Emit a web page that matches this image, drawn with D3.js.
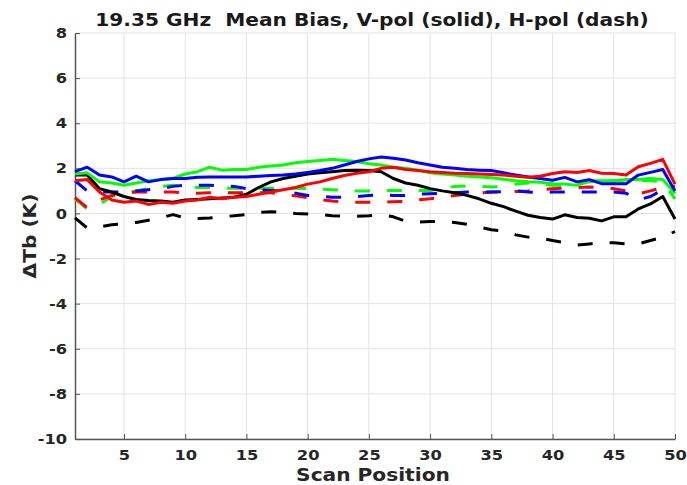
<!DOCTYPE html>
<html>
<head>
<meta charset="utf-8">
<script src="https://cdn.jsdelivr.net/npm/d3@7"></script>
<style>
  html, body { margin: 0; padding: 0; background: #fff; }
  svg { display: block; }
  text { font-family: "DejaVu Sans", sans-serif; font-weight: bold; }
</style>
</head>
<body>
<svg id="chart" width="687" height="485"></svg>
<script>
// Scan positions 1..50
const scanPositions = d3.range(1, 51);

// Mean bias (K) per scan position, V-pol (solid)
const vBlack = [1.7,1.7,1.1,0.95,0.75,0.62,0.57,0.55,0.5,0.6,0.62,0.65,0.68,0.72,0.85,1.15,1.4,1.55,1.65,1.75,1.8,1.85,1.9,1.92,1.9,1.85,1.55,1.35,1.25,1.1,1.0,0.92,0.8,0.65,0.45,0.3,0.1,-0.08,-0.18,-0.25,-0.06,-0.18,-0.21,-0.33,-0.15,-0.15,0.2,0.42,0.75,-0.25];
const vBlue  = [1.85,2.05,1.7,1.62,1.4,1.65,1.4,1.5,1.55,1.55,1.6,1.62,1.62,1.62,1.62,1.65,1.68,1.7,1.75,1.82,1.9,2.0,2.15,2.3,2.42,2.5,2.45,2.37,2.25,2.15,2.05,2.0,1.95,1.92,1.9,1.8,1.7,1.62,1.55,1.47,1.6,1.4,1.5,1.32,1.32,1.32,1.7,1.82,1.95,1.0];
const vRed   = [1.45,1.5,0.95,0.6,0.5,0.55,0.4,0.5,0.45,0.55,0.6,0.72,0.65,0.72,0.75,0.85,0.95,1.05,1.15,1.3,1.4,1.55,1.68,1.78,1.85,2.0,2.05,1.95,1.9,1.85,1.82,1.78,1.77,1.75,1.73,1.7,1.65,1.6,1.65,1.77,1.85,1.82,1.9,1.78,1.77,1.7,2.07,2.22,2.4,1.3];
const vGreen = [1.75,1.8,1.4,1.35,1.25,1.35,1.45,1.5,1.55,1.75,1.85,2.05,1.92,1.95,1.95,2.05,2.1,2.15,2.25,2.3,2.35,2.4,2.35,2.3,2.2,2.15,2.05,2.0,1.92,1.8,1.75,1.7,1.65,1.62,1.58,1.52,1.45,1.4,1.38,1.32,1.3,1.25,1.45,1.45,1.45,1.5,1.5,1.55,1.5,0.9];

// Mean bias (K) per scan position, H-pol (dash)
const hBlack = [-0.2,-0.65,-0.6,-0.5,-0.45,-0.4,-0.3,-0.2,-0.05,-0.2,-0.22,-0.2,-0.15,-0.1,-0.05,0.05,0.08,0.05,0.0,-0.02,-0.05,-0.1,-0.12,-0.12,-0.1,-0.05,-0.15,-0.35,-0.38,-0.36,-0.36,-0.4,-0.48,-0.6,-0.72,-0.78,-0.95,-1.05,-1.1,-1.2,-1.3,-1.4,-1.35,-1.3,-1.3,-1.35,-1.35,-1.2,-1.05,-0.8];
const hBlue  = [1.45,1.0,0.95,0.95,0.95,1.0,1.05,1.1,1.2,1.25,1.25,1.25,1.22,1.2,1.1,1.05,1.02,1.0,0.9,0.8,0.75,0.72,0.72,0.75,0.8,0.82,0.8,0.8,0.85,0.87,0.9,0.92,0.95,0.95,0.95,0.97,1.0,0.95,0.92,0.95,0.95,0.95,0.95,0.95,0.95,0.9,0.6,0.75,1.05,1.0];
const hRed   = [0.7,0.25,0.6,0.8,0.9,0.95,0.95,0.95,0.95,0.9,0.9,0.92,0.92,0.92,0.92,0.92,0.92,0.85,0.78,0.7,0.62,0.55,0.5,0.5,0.5,0.5,0.52,0.53,0.6,0.65,0.72,0.8,0.85,0.9,0.95,0.95,0.97,1.0,1.05,1.1,1.12,1.15,1.17,1.15,1.1,1.0,0.87,1.0,1.15,1.2];
const hGreen = [0.65,0.2,0.4,0.75,0.9,1.0,1.1,1.2,1.25,1.2,1.15,1.15,1.12,1.12,1.12,1.12,1.12,1.12,1.12,1.1,1.08,1.05,1.02,1.0,1.0,1.02,1.02,1.02,1.02,1.02,1.1,1.2,1.22,1.2,1.17,1.2,1.3,1.35,1.3,1.25,1.25,1.3,1.4,1.42,1.45,1.47,1.47,1.45,1.4,0.65];

// Axis ticks
const xTicks = [5,10,15,20,25,30,35,40,45,50];
const yTicks = [-10,-8,-6,-4,-2,0,2,4,6,8];

const titleText = "19.35 GHz  Mean Bias, V-pol (solid), H-pol (dash)";
const xLabel = "Scan Position";
const yLabel = "\u0394Tb (K)";

const svg = d3.select("#chart");
const margin = { left: 75, right: 12, top: 33, bottom: 46 };
const W = 687, H = 485;
const STRETCH = 1.12; // text is drawn slightly wide

const x = d3.scaleLinear().domain([1, 50]).range([margin.left, W - margin.right]);
const y = d3.scaleLinear().domain([-10, 8]).range([H - margin.bottom, margin.top]);

// grid
const grid = svg.append("g").attr("stroke", "#e3e3e3").attr("stroke-width", 1);
xTicks.forEach(t => grid.append("line")
  .attr("x1", x(t)).attr("x2", x(t)).attr("y1", y(-10)).attr("y2", y(8)));
yTicks.forEach(t => grid.append("line")
  .attr("x1", x(1)).attr("x2", x(50)).attr("y1", y(t)).attr("y2", y(t)));

// axes (plain hyphen minus on negative labels)
const fmt = t => String(t);
const xAxis = d3.axisBottom(x).tickValues(xTicks).tickFormat(fmt).tickSizeInner(-5).tickSizeOuter(0).tickPadding(11);
const yAxis = d3.axisLeft(y).tickValues(yTicks).tickFormat(fmt).tickSizeInner(-5).tickSizeOuter(0).tickPadding(8);

const gx = svg.append("g").attr("transform", `translate(0,${y(-10)})`).call(xAxis);
const gy = svg.append("g").attr("transform", `translate(${x(1)},0)`).call(yAxis);
[gx, gy].forEach(g => {
  g.select(".domain").attr("stroke", "#555").attr("stroke-width", 1.5);
  g.selectAll(".tick line").attr("stroke", "#555").attr("stroke-width", 1);
  g.selectAll(".tick text").attr("fill", "#262626").attr("class", "wide")
    .style("font-family", "DejaVu Sans, sans-serif").style("font-weight", "bold").style("font-size", "14.5px");
});

// series
const line = d3.line().x((d, i) => x(scanPositions[i])).y(d => y(d));
const series = [
  { v: hBlack, c: "#000000", dash: true },
  { v: hGreen, c: "#00ff00", dash: true },
  { v: hRed,   c: "#ff0000", dash: true },
  { v: hBlue,  c: "#0000ff", dash: true },
  { v: vBlack, c: "#000000", dash: false },
  { v: vGreen, c: "#00ff00", dash: false },
  { v: vBlue,  c: "#0000ff", dash: false },
  { v: vRed,   c: "#ff0000", dash: false }
];
svg.append("g").selectAll("path").data(series).join("path")
  .attr("d", d => line(d.v))
  .attr("fill", "none")
  .attr("stroke", d => d.c)
  .attr("stroke-width", 3)
  .attr("stroke-linejoin", "round")
  .attr("stroke-dasharray", d => d.dash ? "15,17" : null);

// labels
svg.append("text").attr("class", "wide").attr("x", 372).attr("y", 26).attr("text-anchor", "middle")
  .attr("fill", "#1a1a1a").style("font-size", "18px").style("white-space", "pre").text(titleText);
svg.append("text").attr("class", "wide").attr("x", 373).attr("y", 481).attr("text-anchor", "middle")
  .attr("fill", "#262626").style("font-size", "18px").text(xLabel);
svg.append("text").attr("class", "wide")
  .attr("transform", `translate(36,${(y(-10) + y(8)) / 2}) rotate(-90)`)
  .attr("text-anchor", "middle").attr("fill", "#262626").style("font-size", "18px").text(yLabel);

// widen all text glyphs uniformly
svg.selectAll("text.wide").each(function () {
  const len = this.getComputedTextLength();
  d3.select(this).attr("textLength", len * STRETCH).attr("lengthAdjust", "spacingAndGlyphs");
});
</script>
</body>
</html>
